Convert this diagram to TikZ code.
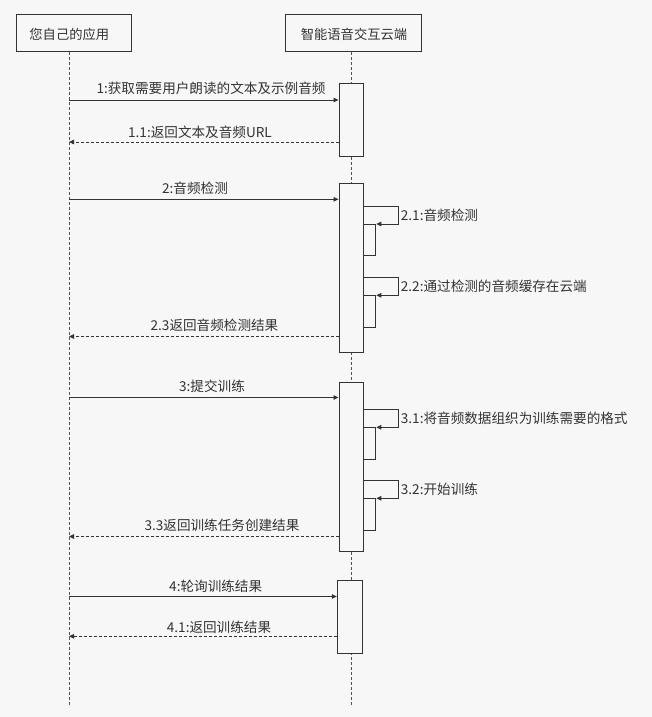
\documentclass[tikz,border=0pt]{standalone}
\usepackage{fontspec}
\setmainfont{Noto Sans CJK SC}
\usetikzlibrary{arrows.meta}
\definecolor{bg}{HTML}{F7F7F7}
\definecolor{ln}{HTML}{333333}
\definecolor{tx}{HTML}{333333}
\begin{document}
\begin{tikzpicture}[x=1pt,y=-1pt,
  actorbox/.style={draw=ln, line width=1pt, fill=bg},
  lifeline/.style={draw=ln!85, dash pattern=on 3pt off 2pt, line width=0.8pt},
  actbox/.style={draw=ln, line width=1pt, fill=bg, minimum width=24pt, inner sep=0pt, anchor=north},
  nested/.style={draw=ln, line width=1pt, fill=bg, minimum width=12.7pt, minimum height=32pt, inner sep=0pt, anchor=north west},
  msg/.style={draw=ln, line width=0.8pt, -{Triangle[length=5pt,width=4.5pt]}},
  ret/.style={msg, dash pattern=on 3pt off 2pt},
  lbl/.style={text=tx, font=\fontsize{13.6}{15}\selectfont, inner sep=0pt},
  ttl/.style={text=tx, font=\fontsize{13.3}{15}\selectfont, inner sep=0pt}]
\fill[bg] (0,0) rectangle (652,717);
\useasboundingbox (0,0) rectangle (652,717);

% actors
\node[actorbox, minimum width=115pt, minimum height=37.4pt, inner sep=0pt] (boxA) at (74.2,33) {};
\node[ttl] (A) at (69.3,34.5) {您自己的应用};
\node[actorbox, minimum width=136pt, minimum height=37.4pt, inner sep=0pt] (boxB) at (353.7,33) {};
\node[ttl] (B) at (354,34.5) {智能语音交互云端};

% lifelines
\coordinate (L) at (69,0);
\coordinate (R) at (351,0);
\coordinate (Lend) at (69,706.7);
\coordinate (Rend) at (351,706.7);
\draw[lifeline] (L |- boxA.south) -- (Lend);
\draw[lifeline] (R |- boxB.south) -- (Rend);

% activations
\node[actbox, minimum height=73pt] (act1) at (351,83.3) {};
\node[actbox, minimum height=168.7pt] (act2) at (351,183.3) {};
\node[actbox, minimum height=168.7pt] (act3) at (351,382.3) {};
\node[actbox, minimum height=73pt, minimum width=25.4pt] (act4) at (350,580.3) {};

\node[nested, minimum height=31.3pt] (n21) at (362.6,224) {};
\node[nested] (n22) at (362.6,295.3) {};
\node[nested] (n31) at (362.6,427.3) {};
\node[nested] (n32) at (362.6,498.3) {};

% messages
\draw[msg] (L |- 0,100) -- (act1.west |- 0,100);
\node[lbl] (l1) at (211,88.3) {1:获取需要用户朗读的文本及示例音频};
\draw[ret] (act1.west |- 0,142) -- (L |- 0,142);
\node[lbl] (l11) at (200,132.3) {1.1:返回文本及音频URL};

\draw[msg] (L |- 0,199.3) -- (act2.west |- 0,199.3);
\node[lbl] (l2) at (195,188.3) {2:音频检测};
\coordinate (s21) at (398.3,206);
\draw[msg] (act2.east |- s21) -- (s21) |- (n21.north east);
\node[lbl, anchor=west] (l21) at (400.7,215.5) {2.1:音频检测};
\coordinate (s22) at (398.3,277.3);
\draw[msg] (act2.east |- s22) -- (s22) |- (n22.north east);
\node[lbl, anchor=west] (l22) at (400.7,286.5) {2.2:通过检测的音频缓存在云端};
\draw[ret] (act2.west |- 0,336.5) -- (L |- 0,336.5);
\node[lbl] (l23) at (214.5,325) {2.3返回音频检测结果};

\draw[msg] (L |- 0,397.5) -- (act3.west |- 0,397.5);
\node[lbl] (l3) at (212,386.7) {3:提交训练};
\coordinate (s31) at (398.3,409.3);
\draw[msg] (act3.east |- s31) -- (s31) |- (n31.north east);
\node[lbl, anchor=west] (l31) at (400.7,418.3) {3.1:将音频数据组织为训练需要的格式};
\coordinate (s32) at (398.3,480.3);
\draw[msg] (act3.east |- s32) -- (s32) |- (n32.north east);
\node[lbl, anchor=west] (l32) at (400.7,489.3) {3.2:开始训练};
\draw[ret] (act3.west |- 0,536.5) -- (L |- 0,536.5);
\node[lbl] (l33) at (222,525) {3.3返回训练任务创建结果};

\draw[msg] (L |- 0,596.5) -- (act4.west |- 0,596.5);
\node[lbl] (l4) at (215.7,586.7) {4:轮询训练结果};
\draw[ret] (act4.west |- 0,636.3) -- (L |- 0,636.3);
\node[lbl] (l41) at (219,627.7) {4.1:返回训练结果};
\end{tikzpicture}
\end{document}
